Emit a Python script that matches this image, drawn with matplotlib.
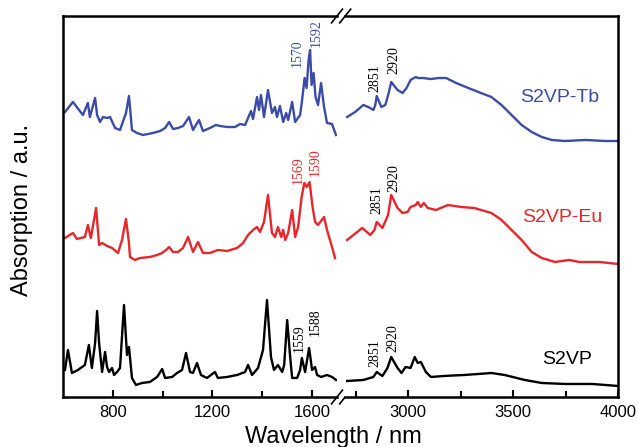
import matplotlib
matplotlib.use("Agg")
import matplotlib.pyplot as plt

# fingerprint region (left panel), wavelength axis as labelled in the figure
tb_left_x = [608, 640, 680, 700, 708, 729, 737, 749, 761, 777, 789, 809, 829, 853, 865, 877,
             897, 921, 961, 990, 1010, 1026, 1042, 1062, 1082, 1106, 1122, 1146, 1162, 1190,
             1214, 1231, 1259, 1291, 1311, 1331, 1343, 1355, 1363, 1379, 1387, 1395, 1407,
             1423, 1439, 1451, 1459, 1471, 1484, 1496, 1504, 1520, 1532, 1552, 1560, 1570,
             1578, 1586, 1592, 1598, 1606, 1614, 1624, 1636, 1648, 1660, 1680, 1696]
tb_left_y = [285, 295, 282, 294, 280, 299, 282, 275, 280, 279, 280, 269, 267, 284, 301, 267,
             264, 262, 264, 266, 269, 275, 268, 269, 271, 280, 267, 277, 266, 269,
             272, 271, 270, 270, 273, 272, 279, 286, 278, 300, 287, 302, 280,
             307, 284, 290, 280, 291, 275, 284, 277, 295, 275, 282, 297, 319,
             309, 337, 347, 312, 324, 300, 292, 314, 290, 274, 273, 262]

eu_left_x = [608, 640, 656, 688, 700, 712, 733, 745, 757, 777, 797, 821, 837, 853, 865, 869,
             889, 909, 949, 978, 998, 1014, 1026, 1042, 1062, 1082, 1102, 1122, 1142, 1162,
             1190, 1222, 1259, 1299, 1323, 1343, 1363, 1379, 1391, 1407, 1423, 1439, 1451,
             1463, 1476, 1484, 1492, 1504, 1520, 1532, 1544, 1558, 1569, 1579, 1590, 1602,
             1612, 1624, 1648, 1660, 1680, 1692]
eu_left_y = [159, 164, 158, 160, 172, 159, 189, 152, 154, 151, 149, 144, 157, 178, 154, 140,
             137, 139, 140, 142, 144, 147, 150, 145, 145, 149, 160, 145, 155, 144,
             144, 147, 146, 149, 154, 162, 167, 170, 165, 175, 202, 164, 160,
             170, 160, 167, 157, 164, 187, 160, 170, 200, 214, 210, 215, 190,
             175, 172, 180, 167, 150, 139]

s2vp_left_x = [608, 620, 636, 660, 688, 704, 716, 729, 737, 745, 757, 769, 777, 785, 797, 805,
               817, 829, 845, 857, 865, 877, 893, 917, 949, 978, 998, 1010, 1038, 1058,
               1078, 1094, 1110, 1122, 1138, 1154, 1178, 1210, 1222, 1259, 1299, 1331,
               1343, 1359, 1383, 1403, 1419, 1435, 1447, 1463, 1480, 1488, 1500, 1512,
               1520, 1540, 1552, 1559, 1572, 1588, 1600, 1612, 1620, 1636, 1660, 1680, 1696]
s2vp_left_y = [27, 47, 24, 27, 32, 52, 29, 54, 86, 54, 25, 45, 30, 25, 29, 22,
               25, 29, 92, 42, 50, 19, 12, 14, 15, 20, 28, 19, 20, 24,
               27, 44, 25, 24, 34, 22, 19, 25, 19, 20, 22, 25,
               32, 22, 29, 47, 97, 40, 27, 32, 25, 32, 77, 40,
               19, 19, 27, 39, 25, 49, 27, 30, 22, 20, 22, 20, 17]

# C-H / broad region (right panel)
tb_right_x = [2710, 2748, 2787, 2811, 2835, 2844, 2851, 2873, 2892, 2908, 2920, 2950, 2974,
              2993, 3012, 3037, 3046, 3070, 3109, 3147, 3181, 3229, 3287, 3335, 3397, 3445,
              3493, 3541, 3589, 3637, 3685, 3748, 3844, 3940, 4000]
tb_right_y = [280, 285, 292, 290, 287, 292, 301, 290, 292, 304, 315, 307, 304,
              309, 317, 320, 319, 319, 318, 319, 319, 314, 309, 305, 300, 292,
              282, 272, 265, 260, 257, 256, 257, 256, 256]

eu_right_x = [2710, 2782, 2820, 2840, 2851, 2878, 2905, 2920, 2950, 2974, 2998, 3012, 3037,
              3046, 3061, 3075, 3094, 3133, 3190, 3253, 3315, 3397, 3445, 3493, 3541, 3589,
              3637, 3700, 3767, 3815, 3911, 4000]
eu_right_y = [157, 169, 162, 167, 175, 169, 182, 202, 189, 184, 185, 190, 192,
              195, 190, 194, 189, 187, 192, 190, 189, 184, 177, 167, 157, 145,
              139, 135, 137, 135, 135, 133]

s2vp_right_x = [2710, 2787, 2835, 2851, 2878, 2902, 2920, 2950, 2969, 2988, 3012, 3032, 3046,
                3061, 3085, 3109, 3171, 3267, 3335, 3397, 3460, 3556, 3637, 3748, 3878, 4000]
s2vp_right_y = [16, 17, 20, 25, 21, 29, 40, 29, 24, 30, 29, 40, 34,
                35, 25, 20, 21, 22, 23, 24, 22, 17, 14, 13, 13, 11]

sample_names = ["S2VP-Tb", "S2VP-Eu", "S2VP"]
colors = ["#3a4ca8", "#e8262a", "black"]

plt.rcParams['font.family'] = ['Liberation Sans', 'DejaVu Sans']

fig = plt.figure(figsize=(6.38, 4.47), dpi=100)
ax1 = fig.add_axes([0.0987, 0.1119, 0.4295, 0.8523])
ax2 = fig.add_axes([0.5408, 0.1119, 0.4279, 0.8523])

ax1.plot(tb_left_x, tb_left_y, color=colors[0], lw=1.7)
ax1.plot(eu_left_x, eu_left_y, color=colors[1], lw=1.7)
ax1.plot(s2vp_left_x, s2vp_left_y, color=colors[2], lw=1.7)
ax2.plot(tb_right_x, tb_right_y, color=colors[0], lw=1.7)
ax2.plot(eu_right_x, eu_right_y, color=colors[1], lw=1.7)
ax2.plot(s2vp_right_x, s2vp_right_y, color=colors[2], lw=1.7)

ax1.set_xlim(600, 1700)
ax2.set_xlim(2700, 4000)
for ax in (ax1, ax2):
    ax.set_ylim(0, 381)
    ax.set_yticks([])
    ax.tick_params(axis='x', which='both', direction='in', width=1.5, labelsize=12, pad=6)
    ax.tick_params(axis='x', which='major', length=5)
    ax.tick_params(axis='x', which='minor', length=4)
    for s in ax.spines.values():
        s.set_linewidth(1.8)

ax1.set_xticks([800, 1200, 1600])
ax1.set_xticks([1000, 1400], minor=True)
ax2.set_xticks([3000, 3500, 4000])
ax2.set_xticks([2750, 3250, 3750], minor=True)
ax1.spines['right'].set_visible(False)
ax2.spines['left'].set_visible(False)

# break marks
d = 0.018
kw = dict(color='black', lw=1.2, clip_on=False)
for dx in (0.0, 0.03):
    ax1.plot([1 - 0.02 + dx, 1 + 0.02 + dx], [-d, d], transform=ax1.transAxes, **kw)
    ax1.plot([1 - 0.02 + dx, 1 + 0.02 + dx], [1 - d, 1 + d], transform=ax1.transAxes, **kw)

# peak labels
serif = dict(family='Liberation Serif', fontsize=10, rotation=90, ha='center', va='center')
ax1.text(1540, 344, "1570", color=colors[0], **serif)
ax1.text(1616, 364, "1592", color=colors[0], **serif)
ax1.text(1544, 227, "1569", color=colors[1], **serif)
ax1.text(1612, 235, "1590", color=colors[1], **serif)
ax1.text(1548, 59, "1559", color='black', **serif)
ax1.text(1612, 75, "1588", color='black', **serif)
ax2.text(2844, 319, "2851", color='black', **serif)
ax2.text(2931, 337, "2920", color='black', **serif)
ax2.text(2854, 197, "2851", color='black', **serif)
ax2.text(2931, 219, "2920", color='black', **serif)
ax2.text(2844, 44, "2851", color='black', **serif)
ax2.text(2926, 59, "2920", color='black', **serif)

ax2.text(3724, 299, sample_names[0], color=colors[0], fontsize=14, ha='center', va='center')
ax2.text(3734, 179, sample_names[1], color=colors[1], fontsize=14, ha='center', va='center')
ax2.text(3758, 37, sample_names[2], color=colors[2], fontsize=14, ha='center', va='center')

fig.text(0.522, 0.022, "Wavelength / nm", fontsize=17, ha='center', va='center')
fig.text(0.034, 0.53, "Absorption / a.u.", fontsize=17, ha='center', va='center', rotation=90)

fig.savefig("out.png", dpi=100)
